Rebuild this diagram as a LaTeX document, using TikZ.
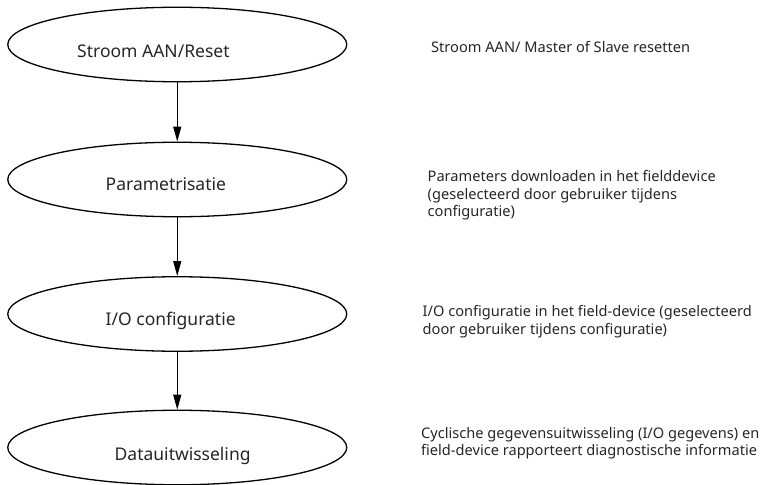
\documentclass[tikz,border=0pt]{standalone}
\usepackage{fontspec}
\setmainfont{Noto Sans}
\usetikzlibrary{shapes.geometric,arrows.meta}
\tikzset{
  stage/.style={ellipse, draw, line width=1.3pt, minimum width=339pt, minimum height=74.5pt, inner sep=0pt},
  stagetext/.style={anchor=base west, inner sep=0pt, font=\fontsize{17.5}{21}\selectfont, text=black!85},
  desc/.style={anchor=base west, inner sep=0pt, align=left, font=\fontsize{14.6}{17.5}\selectfont, text=black!85},
  flow/.style={line width=1.2pt, -{Triangle[length=15pt,width=8pt]}}
}
\begin{document}
\begin{tikzpicture}[x=1pt,y=-1pt]
\useasboundingbox (0,0) rectangle (762,484);
\node[stage] (e1) at (177.25,44.5) {};
\node[stage] (e2) at (177.25,179.5) {};
\node[stage] (e3) at (177.25,314) {};
\node[stage] (e4) at (177.25,447.5) {};
\node[stagetext] (t1) at (77,57.3) {Stroom AAN/Reset};
\node[stagetext] (t2) at (105.5,190.7) {Parametrisatie};
\node[stagetext] (t3) at (105.5,325) {I/O configuratie};
\node[stagetext] (t4) at (114.5,460.7) {Datauitwisseling};
\draw[flow] (e1.south) -- (e2.north);
\draw[flow] (e2.south) -- (e3.north);
\draw[flow] (e3.south) -- (e4.north);
\node[desc] (d1) at (431,53) {Stroom AAN/ Master of Slave resetten};
\node[desc] (d2) at (427.5,216.7) {Parameters downloaden in het fielddevice\\(geselecteerd door gebruiker tijdens\\configuratie)};
\node[desc] (d3) at (422.5,334.3) {I/O configuratie in het field-device (geselecteerd\\door gebruiker tijdens configuratie)};
\node[desc] (d4) at (421,455.5) {Cyclische gegevensuitwisseling (I/O gegevens) en\\field-device rapporteert diagnostische informatie};
\end{tikzpicture}
\end{document}
